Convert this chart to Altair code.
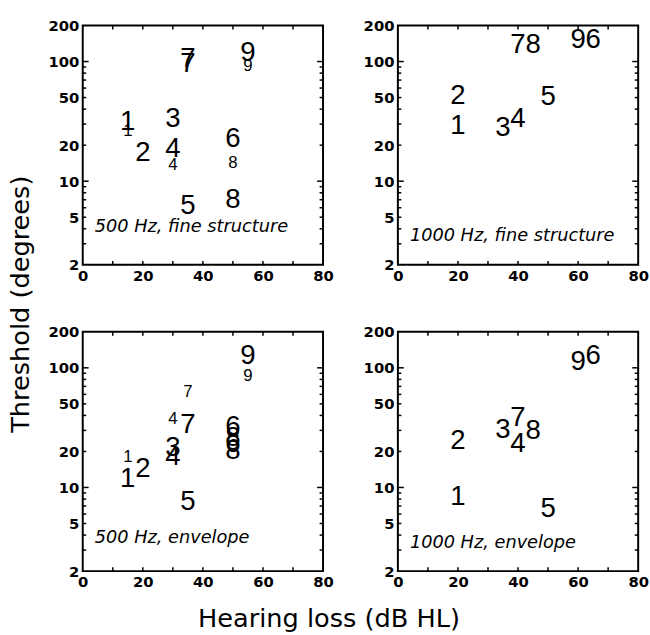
import altair as alt
import pandas as pd

# ---- data (hearing loss in dB HL, threshold in degrees) ----
tl_label = ["1", "1", "2", "3", "4", "4", "5", "6", "7", "7", "8", "8", "9", "9"]
tl_hl = [15, 15, 20, 30, 30, 30, 35, 50, 35, 35, 50, 50, 55, 55]
tl_thr = [31, 26, 17, 33, 18.7, 13.6, 6.2, 22.6, 105, 95, 14.3, 7.0, 117, 91]
tl_size = ["L", "S", "L", "L", "L", "S", "L", "L", "L", "L", "S", "L", "L", "S"]

tr_label = ["1", "2", "3", "4", "5", "6", "7", "8", "9"]
tr_hl = [20, 20, 35, 40, 50, 65, 40, 45, 60]
tr_thr = [29, 51, 28, 33, 50, 150, 137, 137, 150]
tr_size = ["L"] * 9

bl_label = ["1", "1", "2", "3", "4", "4", "5", "6", "6", "7", "7", "8", "8", "9", "9"]
bl_hl = [15, 15, 20, 30, 30, 30, 35, 50, 50, 35, 35, 50, 50, 55, 55]
bl_thr = [17.8, 11.8, 14.3, 21.5, 18, 37, 7.6, 32, 23, 63, 33.5, 26, 20, 126, 86]
bl_size = ["S", "L", "L", "L", "L", "S", "L", "L", "L", "S", "L", "L", "L", "L", "S"]

br_label = ["1", "2", "3", "4", "5", "6", "7", "8", "9"]
br_hl = [20, 20, 35, 40, 50, 65, 40, 45, 60]
br_thr = [8.3, 24.4, 30.4, 22.9, 6.6, 126, 38, 29.5, 112]
br_size = ["L"] * 9

captions = ["500 Hz, fine structure", "1000 Hz, fine structure",
            "500 Hz, envelope", "1000 Hz, envelope"]
caption_x = [4, 4, 4, 4]
caption_y = [4.1, 3.5, 3.8, 3.4]

x_labels = [0, 20, 40, 60, 80]
y_labels = [2, 5, 10, 20, 50, 100, 200]
x_ticks = [10, 20, 30, 40, 50, 60, 70]
y_minor = [3, 4, 5, 6, 7, 8, 9, 20, 30, 40, 50, 60, 70, 80, 90]
y_major = [10, 100]

W, H = 244, 243
DIGIT_FONT = "Liberation Sans"
LABEL_FONT = "DejaVu Sans"

xscale = alt.Scale(domain=[0, 80], nice=False, zero=False)
yscale = alt.Scale(type="log", domain=[2, 200], nice=False)

xaxis = alt.Axis(values=x_labels, title=None, ticks=False, domain=False, grid=False,
                 labelFlush=False, labelOverlap=False, labelPadding=4,
                 labelFont=LABEL_FONT, labelFontSize=15, labelFontWeight="bold",
                 labelColor="black")
yaxis = alt.Axis(values=y_labels, title=None, ticks=False, domain=False, grid=False,
                 labelFlush=False, labelOverlap=False, labelPadding=4,
                 labelFont=LABEL_FONT, labelFontSize=15, labelFontWeight="bold",
                 labelColor="black")


def panel(labels, hl, thr, sizes, caption, cx, cy):
    df = pd.DataFrame({"label": labels, "v": hl, "w": thr, "sz": sizes})
    X = alt.X("v:Q", scale=xscale, axis=xaxis)
    Y = alt.Y("w:Q", scale=yscale, axis=yaxis)
    pts = alt.Chart(df).mark_text(font=DIGIT_FONT, baseline="middle", align="center",
                                  color="black").encode(
        x=X, y=Y, text="label:N",
        size=alt.Size("sz:N", scale=alt.Scale(domain=["L", "S"], range=[28, 17]),
                      legend=None),
    )
    cap = alt.Chart(pd.DataFrame({"t": [caption], "v": [cx], "w": [cy]})).mark_text(
        font=LABEL_FONT, fontStyle="italic", fontSize=18, align="left",
        baseline="middle", color="black").encode(x=X, y=Y, text="t:N")
    ymin = pd.DataFrame({"w": y_minor})
    ymaj = pd.DataFrame({"w": y_major})
    xt = pd.DataFrame({"v": x_ticks})
    rule = dict(color="black", strokeWidth=1.5)
    layers = [pts, cap]
    for d, ln in ((ymin, 3.5), (ymaj, 6)):
        layers.append(alt.Chart(d).mark_rule(**rule).encode(
            y=Y, x=alt.value(0), x2=alt.value(ln)))
        layers.append(alt.Chart(d).mark_rule(**rule).encode(
            y=Y, x=alt.value(W), x2=alt.value(W - ln)))
    layers.append(alt.Chart(xt).mark_rule(**rule).encode(
        x=X, y=alt.value(0), y2=alt.value(4)))
    layers.append(alt.Chart(xt).mark_rule(**rule).encode(
        x=X, y=alt.value(H), y2=alt.value(H - 4)))
    return alt.layer(*layers).properties(width=W, height=H)


p1 = panel(tl_label, tl_hl, tl_thr, tl_size, captions[0], caption_x[0], caption_y[0])
p2 = panel(tr_label, tr_hl, tr_thr, tr_size, captions[1], caption_x[1], caption_y[1])
p3 = panel(bl_label, bl_hl, bl_thr, bl_size, captions[2], caption_x[2], caption_y[2])
p4 = panel(br_label, br_hl, br_thr, br_size, captions[3], caption_x[3], caption_y[3])

row1 = alt.hconcat(p1, p2, spacing=27)
row2 = alt.hconcat(p3, p4, spacing=27)
grid = alt.vconcat(row1, row2, spacing=40,
                   title=alt.TitleParams("Threshold (degrees)", orient="left",
                                         anchor="middle", offset=13))
chart = alt.vconcat(grid, title=alt.TitleParams("Hearing loss (dB HL)", orient="bottom",
                                                anchor="middle", offset=16)).properties(
    padding={"left": 8, "top": 13, "right": 0, "bottom": 0}
).configure_view(stroke="black", strokeWidth=2).configure_title(
    font=LABEL_FONT, fontSize=26, fontWeight="normal", color="black"
)

chart.save("out.html", embed_options={"renderer": "svg", "actions": False})
